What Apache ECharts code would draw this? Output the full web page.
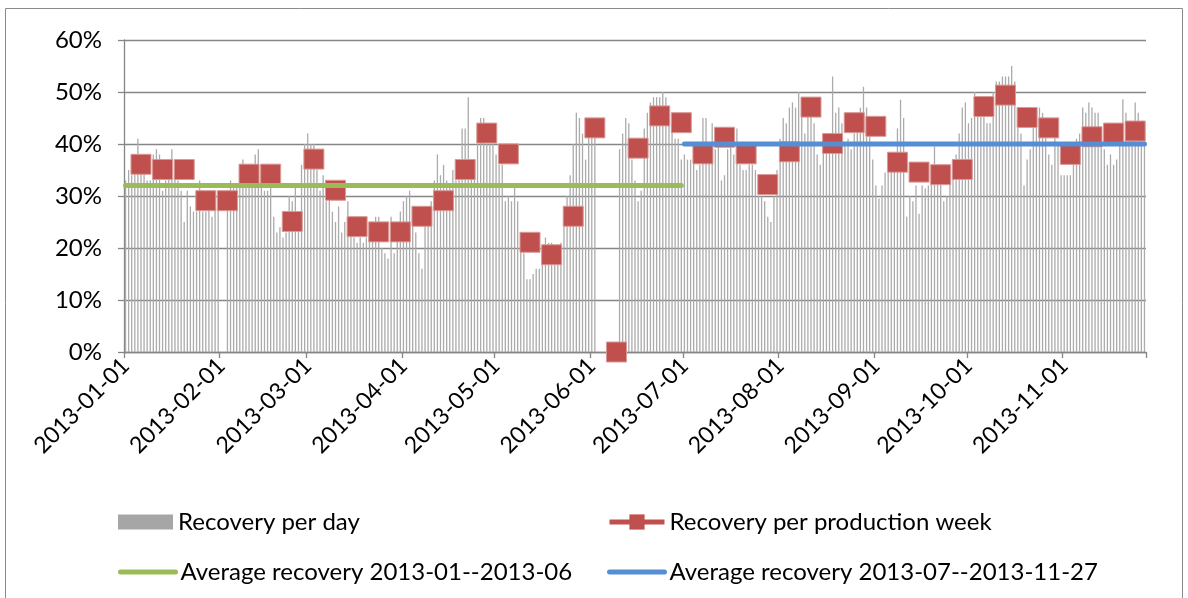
<!DOCTYPE html>
<html><head><meta charset="utf-8">
<script src="https://cdn.jsdelivr.net/npm/echarts@6/dist/echarts.min.js"></script>
<style>html,body{margin:0;padding:0;background:#fff}#c{width:1188px;height:598px}</style>
</head><body><div id="c"></div>
<script>
// ---- data ----
const firstDay = '2013-01-01';
const lastDay = '2013-11-27';
// daily recovery (%), one per day from 2013-01-01 to 2013-11-27; null = no production
const dailyRecovery = [
 33,35,34,36,41,36,35,33,33,38,39,38,31,33,34,39,34,33,31,25,
 31,28,27,27,33,27,27,28,26,29,31,null,null,29,33,32,32,36,37,35,
 35,36,38,39,34,31,31,32,26,23,24,22,23,30,29,32,27,36,40,42,
 40,40,35,31,34,29,31,27,25,28,23,25,29,25,22,21,22,21,22,22,
 23,26,26,20,19,18,26,19,23,27,29,30,31,25,23,19,16,26,26,29,
 33,38,34,36,33,32,35,33,34,43,43,49,37,35,40,45,45,40,40,40,
 38,36,36,29,30,29,31.6,29,20,19,14,14,15,16,16,17,22,21,21,20,
 19,21,27,30,34,40,46,45,42,37,42,43,44,null,null,null,null,null,null,null,
 39,42,45,44,37,33,29,31,43,46,48,49,49,49,50,49,45,44,41,41,
 37,38,37,37,39,35,36,45,45,38,44,39,42,33,34,39,43,38,43,36,
 35,35,36,36,35,30,30,29,26,25,30,35,41,45,44,47,48,47,50,48,
 42,47,47,44,38,36,41,40,42,53,46,47,44,40,41,39,42,46,47,51,
 47,43,37,32,29.5,32,34.5,35,35,37,43,48.5,45,26,30,29,32,26.6,32,31.5,
 32,33,39.5,33,34,29,30,33,37,38,42,47,48,44,45,50,48,47,48,44,
 44,50,52,52,53,53,53,55,52,45,42,32,37,39,44,45,47,46,43,38,
 36,42,40,34,34,34,34,37.6,41,42,47,46,48,47,46,46,42,39,36,38,
 36,37,43,48.6,46,44,44,48,46,42,42
];
// weekly recovery (%), plotted at the Sunday closing each production week
const weekDates = [
 '2013-01-06','2013-01-13','2013-01-20','2013-01-27','2013-02-03','2013-02-10','2013-02-17','2013-02-24',
 '2013-03-03','2013-03-10','2013-03-17','2013-03-24','2013-03-31','2013-04-07','2013-04-14','2013-04-21',
 '2013-04-28','2013-05-05','2013-05-12','2013-05-19','2013-05-26','2013-06-02','2013-06-09','2013-06-16',
 '2013-06-23','2013-06-30','2013-07-07','2013-07-14','2013-07-21','2013-07-28','2013-08-04','2013-08-11',
 '2013-08-18','2013-08-25','2013-09-01','2013-09-08','2013-09-15','2013-09-22','2013-09-29','2013-10-06',
 '2013-10-13','2013-10-20','2013-10-27','2013-11-03','2013-11-10','2013-11-17','2013-11-24'
];
const weeklyRecovery = [
 36.1,35.1,35.1,29.1,29.1,34.2,34.2,25.1,37.1,31.1,
 24.1,23.1,23.1,26.1,29.1,35.1,42.1,38.1,21.1,18.7,
 26.1,43.1,0,39.2,45.4,44.1,38.1,41.3,38.1,32.2,
 38.5,47.1,40.1,44.1,43.4,36.5,34.6,34.1,35.1,47.2,
 49.4,45.1,43.1,38.0,41.4,42.1,42.5
];
const avgH1 = 32, avgH1From = '2013-01-01', avgH1To = '2013-06-30';
const avgH2 = 40, avgH2From = '2013-07-01', avgH2To = '2013-11-27';
const seriesNames = ['Recovery per day','Recovery per production week',
  'Average recovery 2013-01--2013-06','Average recovery 2013-07--2013-11-27'];

// ---- categories (one per day) ----
const dates = [];
{
  let d = new Date(firstDay + 'T00:00:00Z');
  const end = new Date(lastDay + 'T00:00:00Z');
  while (d <= end) { dates.push(d.toISOString().slice(0,10)); d = new Date(d.getTime() + 86400000); }
}
const isMonthStart = (i, v) => /-01$/.test(v);

const FONT = 'Lato';
const FS = 24;
const AX = '#868686';
const chart = echarts.init(document.getElementById('c'), null, {renderer:'canvas'});
const legendBase = {
  orient:'horizontal', padding:0, itemWidth:55, itemHeight:15, itemGap:0,
  textStyle:{fontFamily:FONT, fontSize:FS, color:'#000'}, selectedMode:false
};
chart.setOption({
  animation:false,
  backgroundColor:'#fff',
  graphic:[{type:'rect', silent:true, shape:{x:5.5, y:8.5, width:1177, height:640},
            style:{fill:'none', stroke:'#8a8a8a', lineWidth:1}}],
  grid:{left:124, right:42, top:40, bottom:246, containLabel:false},
  legend:[
    Object.assign({}, legendBase, {data:[{name:seriesNames[0], icon:'rect', itemStyle:{color:'#a6a6a6'}}], left:118, top:510}),
    Object.assign({}, legendBase, {data:[seriesNames[1]], left:607, top:510, itemHeight:19,
        lineStyle:{opacity:1, width:5, color:'#c0504d'}, itemStyle:{borderWidth:0}}),
    Object.assign({}, legendBase, {data:[seriesNames[2]], left:118, top:560,
        lineStyle:{width:5, opacity:1}, itemStyle:{opacity:0}}),
    Object.assign({}, legendBase, {data:[seriesNames[3]], left:607, top:560,
        lineStyle:{width:5, opacity:1}, itemStyle:{opacity:0}})
  ],
  xAxis:{
    type:'category', data:dates, boundaryGap:true,
    axisLine:{lineStyle:{color:AX, width:1.3}},
    axisTick:{show:true, interval:isMonthStart, length:6, lineStyle:{color:AX, width:1.3}},
    axisLabel:{interval:isMonthStart, rotate:45, fontFamily:FONT, fontSize:23, color:'#000', margin:10},
    splitLine:{show:false}
  },
  yAxis:{
    type:'value', min:0, max:60, interval:10,
    axisLine:{show:true, lineStyle:{color:AX, width:1.3}},
    axisTick:{show:true, length:6, lineStyle:{color:AX, width:1.3}},
    axisLabel:{formatter:'{value}%', fontFamily:FONT, fontSize:FS, color:'#000', margin:22},
    splitLine:{show:true, lineStyle:{color:AX, width:1.3}}
  },
  series:[
    {name:seriesNames[0], type:'bar', data:dailyRecovery, barWidth:1.3,
     itemStyle:{color:'#ababab'}, z:1},
    {name:seriesNames[1], type:'line', data:weekDates.map((d,i)=>[d, weeklyRecovery[i]]),
     symbol:'rect', symbolSize:20, showAllSymbol:true, clip:false,
     lineStyle:{opacity:0, color:'#c0504d', width:5},
     itemStyle:{color:'#c0504d', borderColor:'#d99a98', borderWidth:1}, z:3},
    {name:seriesNames[2], type:'line', data:[[avgH1From, avgH1],[avgH1To, avgH1]],
     symbol:'none', lineStyle:{color:'#9bbb59', width:5, cap:'round'},
     itemStyle:{color:'#9bbb59'}, z:4},
    {name:seriesNames[3], type:'line', data:[[avgH2From, avgH2],[avgH2To, avgH2]],
     symbol:'none', lineStyle:{color:'#558ed5', width:5, cap:'round'},
     itemStyle:{color:'#558ed5'}, z:4}
  ]
});
</script></body></html>
